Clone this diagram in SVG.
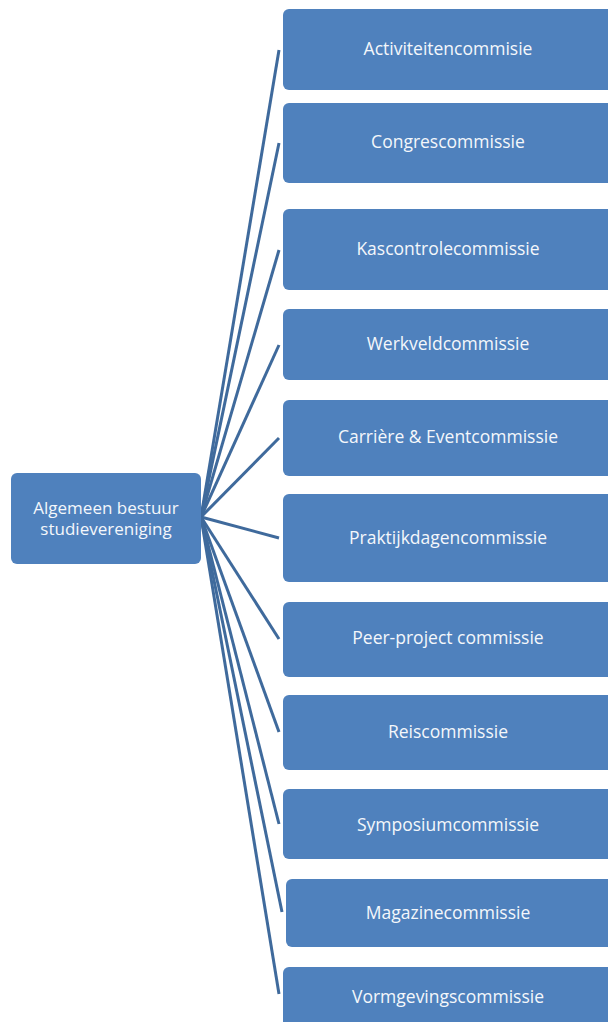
<svg xmlns="http://www.w3.org/2000/svg" width="608" height="1022" viewBox="0 0 608 1022">
<style>
.box{fill:#4F81BD;}
.lbl{fill:#F4F7FB;font-family:"Open Sans","Liberation Sans",sans-serif;font-size:17.5px;text-anchor:middle;dominant-baseline:central;}
.con{stroke:#3F6A9C;stroke-width:3;fill:none;}
</style>
<rect width="608" height="1022" fill="#FFFFFF"/>
<g id="connectors">
<line class="con" x1="201" y1="517" x2="279" y2="50"/>
<line class="con" x1="201" y1="517" x2="279" y2="143"/>
<line class="con" x1="201" y1="517" x2="279" y2="250"/>
<line class="con" x1="201" y1="517" x2="279" y2="345"/>
<line class="con" x1="201" y1="517" x2="279" y2="438"/>
<line class="con" x1="201" y1="517" x2="279" y2="538"/>
<line class="con" x1="201" y1="517" x2="279" y2="639"/>
<line class="con" x1="201" y1="517" x2="279" y2="732"/>
<line class="con" x1="201" y1="517" x2="279" y2="824"/>
<line class="con" x1="201" y1="517" x2="282" y2="912"/>
<line class="con" x1="201" y1="517" x2="279" y2="994"/>
</g>
<g id="root">
<rect class="box" x="11" y="473" width="190" height="91" rx="6"/>
<text class="lbl" x="106" y="507" style="font-size:17px">Algemeen bestuur</text>
<text class="lbl" x="106" y="528" style="font-size:17px">studievereniging</text>
</g>
<g id="n1"><rect class="box" x="283" y="9" width="332" height="81" rx="6"/><text class="lbl" x="448" y="48">Activiteitencommisie</text></g>
<g id="n2"><rect class="box" x="283" y="103" width="332" height="80" rx="6"/><text class="lbl" x="448" y="141">Congrescommissie</text></g>
<g id="n3"><rect class="box" x="283" y="209" width="332" height="81" rx="6"/><text class="lbl" x="448" y="248">Kascontrolecommissie</text></g>
<g id="n4"><rect class="box" x="283" y="309" width="332" height="71" rx="6"/><text class="lbl" x="448" y="343">Werkveldcommissie</text></g>
<g id="n5"><rect class="box" x="283" y="400" width="332" height="76" rx="6"/><text class="lbl" x="448" y="436">Carrière &amp; Eventcommissie</text></g>
<g id="n6"><rect class="box" x="283" y="494" width="332" height="88" rx="6"/><text class="lbl" x="448" y="537">Praktijkdagencommissie</text></g>
<g id="n7"><rect class="box" x="283" y="602" width="332" height="75" rx="6"/><text class="lbl" x="448" y="637">Peer-project commissie</text></g>
<g id="n8"><rect class="box" x="283" y="695" width="332" height="75" rx="6"/><text class="lbl" x="448" y="731">Reiscommissie</text></g>
<g id="n9"><rect class="box" x="283" y="789" width="332" height="70" rx="6"/><text class="lbl" x="448" y="824">Symposiumcommissie</text></g>
<g id="n10"><rect class="box" x="286" y="879" width="332" height="68" rx="6"/><text class="lbl" x="448" y="912">Magazinecommissie</text></g>
<g id="n11"><rect class="box" x="283" y="967" width="332" height="80" rx="6"/><text class="lbl" x="448" y="996">Vormgevingscommissie</text></g>
</svg>
